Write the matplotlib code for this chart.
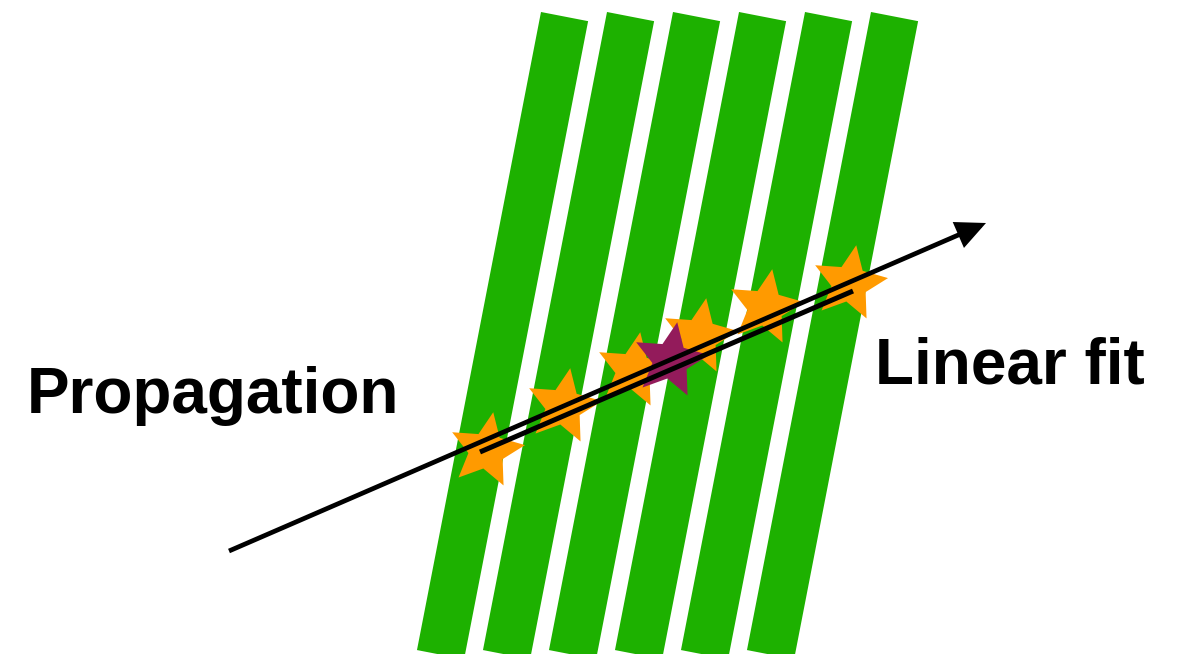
import numpy as np
import matplotlib
matplotlib.use("Agg")
import matplotlib.pyplot as plt
from matplotlib.patches import Polygon, FancyArrowPatch
from matplotlib.markers import MarkerStyle
from matplotlib.path import Path
from matplotlib.transforms import Affine2D

# Detector strips: x of the top-left corner of each strip (pixel units)
strip_top_x = [541, 607, 673, 739, 805, 871]
strip_top_y = 12
strip_width = 48
strip_length = 650
strip_tilt_deg = 11.0

# Hits (orange) and the seed hit (purple)
hit_x = [486, 563, 633, 699, 765, 849]
hit_y = [450, 406, 370, 336, 307, 283]
seed_x = [670]
seed_y = [360]

# Propagation arrow (tail -> head) and linear fit segment
prop_x = [229, 986]
prop_y = [551, 223]
fit_x = [480, 853]
fit_y = [452, 291]

GREEN = "#1db100"
ORANGE = "#ff9a00"
PURPLE = "#931b5b"

W, H = 1178, 654
fig = plt.figure(figsize=(W / 100, H / 100), dpi=100)
ax = fig.add_axes([0, 0, 1, 1])
ax.set_xlim(0, W)
ax.set_ylim(H, 0)
ax.axis("off")

# strips as tilted rectangles
t = np.radians(strip_tilt_deg)
along = np.array([-np.sin(t), np.cos(t)])
across = np.array([np.cos(t), np.sin(t)])
for x0 in strip_top_x:
    p0 = np.array([x0, strip_top_y], dtype=float)
    corners = [p0, p0 + strip_width * across,
               p0 + strip_width * across + strip_length * along,
               p0 + strip_length * along]
    ax.add_patch(Polygon(corners, closed=True, facecolor=GREEN,
                         edgecolor="none", zorder=1))

# fatter five-point star than matplotlib's '*'
ang = np.pi / 2 + np.arange(10) * np.pi / 5
rad = np.where(np.arange(10) % 2 == 0, 1.0, 0.47)
verts = np.column_stack([rad * np.cos(ang), rad * np.sin(ang)])
verts = np.vstack([verts, verts[:1]])
star_path = Path(verts, closed=True)
star = MarkerStyle(star_path, transform=Affine2D().rotate_deg(-10))

ax.plot(hit_x, hit_y, linestyle="none", marker=star, markersize=56,
        color=ORANGE, markeredgewidth=0, zorder=2)
ax.plot(seed_x, seed_y, linestyle="none", marker=star, markersize=56,
        color=PURPLE, markeredgewidth=0, zorder=3)

# linear fit
ax.plot(fit_x, fit_y, color="black", lw=3.6, solid_capstyle="butt", zorder=4)

# propagation arrow
arrow = FancyArrowPatch((prop_x[0], prop_y[0]), (prop_x[1], prop_y[1]),
                        arrowstyle="-|>,head_length=16,head_width=7.5",
                        mutation_scale=1, shrinkA=0, shrinkB=0,
                        color="black", lw=3.4, capstyle="butt",
                        joinstyle="miter", zorder=5)
ax.add_patch(arrow)

font = dict(family="Liberation Sans", weight="bold", fontsize=46,
            color="black", va="baseline", ha="left")
ax.text(27, 413, "Propagation", **font)
ax.text(875, 383, "Linear fit", **font)

fig.savefig("out.png", dpi=100)
